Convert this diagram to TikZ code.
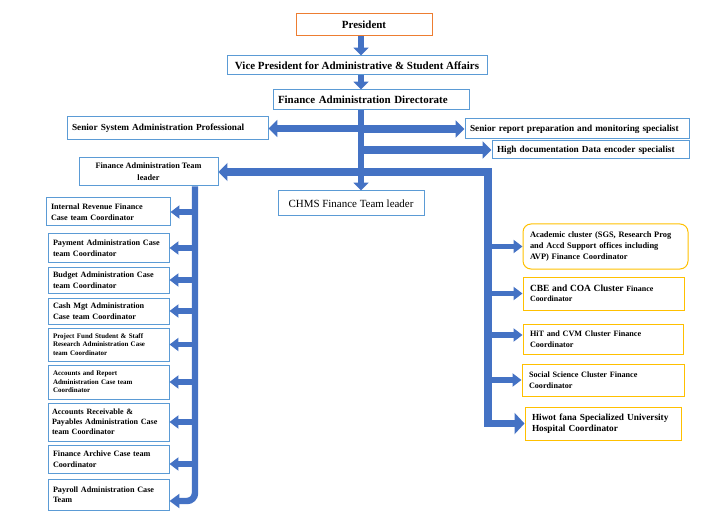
\documentclass[tikz,border=0pt]{standalone}
\usepackage{fontspec}
\setmainfont{Liberation Serif}
\usetikzlibrary{arrows.meta}
\definecolor{boxblue}{HTML}{5B9BD5}
\definecolor{presorange}{HTML}{ED7D31}
\definecolor{clgold}{HTML}{FFC000}
\definecolor{arrowblue}{HTML}{4472C4}
\newcommand{\fsz}[2]{\fontsize{#1}{#2}\selectfont}

\begin{document}
\begin{tikzpicture}[x=1bp, y=-1bp,
	box/.style = {draw=boxblue, line width=1bp, anchor=north west, inner xsep=5bp, inner ysep=1bp, align=left, font=\bfseries\fsz{11}{13}},
	lft/.style = {box, text width=111bp, font=\bfseries\fsz{8.2}{10.5}},
	rgt/.style = {box, draw=clgold, inner xsep=7bp, font=\bfseries\fsz{8.2}{10.5}},
	darrow/.style = {draw=arrowblue, line width=7pt, -{Triangle[width=15pt,length=8pt]}},
	harrow/.style = {draw=arrowblue, line width=7.5pt, -{Triangle[width=17pt,length=9pt]}},
	sarrow/.style = {draw=arrowblue, line width=6pt, -{Triangle[width=13pt,length=9pt]}}]
		\useasboundingbox (-0.5,-0.5) rectangle (716.5,514.5);
		\coordinate (ctr) at (360.5,0);
		\coordinate (ltr) at (194.5,0);
		\coordinate (rtr) at (487.5,0);

		\node (pres) at (295,13) [box, draw=presorange, align=center, minimum width=136bp, minimum height=22bp] {President};
		\node (vp) at (226,55) [box, align=center, minimum width=260bp, minimum height=19bp] {Vice President for Administrative \& Student Affairs};
		\node (fad) at (272,89) [box, text width=186bp, minimum height=20bp] {Finance Administration Directorate};
		\node (ssa) at (66,116) [box, text width=191bp, minimum height=23bp, font=\bfseries\fsz{9.3}{11}] {Senior System Administration Professional};
		\node (sr) at (464,118) [box, text width=214bp, minimum height=20bp, font=\bfseries\fsz{9.3}{11}] {Senior report preparation and monitoring specialist};
		\node (hd) at (491,140) [box, text width=187bp, minimum height=18bp, font=\bfseries\fsz{9.3}{11}] {High documentation Data encoder specialist};
		\node (fat) at (78,157) [box, align=center, minimum width=139bp, minimum height=28bp, font=\bfseries\fsz{8.3}{12}] {Finance Administration Team\\leader};
		\node (chms) at (277,190) [box, align=center, minimum width=146bp, minimum height=25bp, font=\fsz{11}{13}] {CHMS Finance Team leader};

		\node (irf) at (45,197) [lft, text width=114bp, minimum height=28bp] {Internal Revenue Finance\\Case team Coordinator};
		\node (pay) at (47,233) [lft, minimum height=28bp] {Payment Administration Case\\team Coordinator};
		\node (bud) at (47,266) [lft, minimum height=26bp] {Budget Administration Case\\team Coordinator};
		\node (cash) at (47,297) [lft, minimum height=26bp] {Cash Mgt Administration\\Case team Coordinator};
		\node (proj) at (47,327) [lft, minimum height=33bp, font=\bfseries\fsz{7}{8.6}] {Project Fund Student \& Staff\\Research Administration Case\\team Coordinator};
		\node (arep) at (47,364) [lft, minimum height=34bp, font=\bfseries\fsz{7}{8.6}] {Accounts and Report\\Administration Case team\\Coordinator};
		\node (arec) at (47,402) [lft, inner xsep=4bp, text width=113bp, minimum height=38bp, font=\bfseries\fsz{8.1}{9.8}] {Accounts Receivable \&\\Payables Administration Case\\team Coordinator};
		\node (farc) at (47,444) [lft, minimum height=28bp] {Finance Archive Case team\\Coordinator};
		\node (payr) at (47,478) [lft, minimum height=31bp] {Payroll Administration Case\\Team};

		\node (acad) at (522,223) [rgt, rounded corners=8bp, text width=151bp, minimum height=45bp, font=\bfseries\fsz{8.4}{11}] {Academic cluster (SGS, Research Prog\\and Accd Support offices including\\AVP) Finance Coordinator};
		\node (cbe) at (522,276) [rgt, text width=147bp, minimum height=33bp, font=\bfseries\fsz{8}{10.5}] {{\fsz{9.5}{10.5}CBE and COA Cluster} Finance\\Coordinator};
		\node (hit) at (522,323) [rgt, text width=146bp, minimum height=30bp] {HiT and CVM Cluster Finance\\Coordinator};
		\node (soc) at (521,363) [rgt, text width=148bp, minimum height=32bp] {Social Science Cluster Finance\\Coordinator};
		\node (hiw) at (524,406) [rgt, text width=142bp, minimum height=33bp, font=\bfseries\fsz{9.3}{11.3}] {Hiwot fana Specialized University\\Hospital Coordinator};

		\coordinate (hitin) at ([yshift=4bp]hit.west);
		\coordinate (farcin) at ([yshift=-5bp]farc.east);
		\coordinate (payrin) at ([yshift=-6.5bp]payr.east);

		\draw[darrow] (pres.south -| ctr) -- (vp.north -| ctr);
		\draw[darrow] (vp.south -| ctr) -- (fad.north -| ctr);
		\draw[darrow] (fad.south -| ctr) -- (chms.north -| ctr);
		\draw[harrow] (ssa.east -| ctr) -- (ssa.east);
		\draw[harrow] (sr.west -| ctr) -- (sr.west);
		\draw[harrow] (hd.west -| ctr) -- (hd.west);
		\draw[draw=arrowblue, line width=7.5pt, {Triangle[width=18pt,length=9pt]}-{Triangle[width=21pt,length=10pt]}] (fat.east) -- (fat.east -| rtr) |- (hiw.west);
		\draw[draw=arrowblue, line width=6.5pt, rounded corners=8pt, -{Triangle[width=14pt,length=10pt]}] (fat.south -| ltr) |- (payrin);

		\draw[sarrow] (irf.east -| ltr) -- (irf.east);
		\draw[sarrow] (pay.east -| ltr) -- (pay.east);
		\draw[sarrow] (bud.east -| ltr) -- (bud.east);
		\draw[sarrow] (cash.east -| ltr) -- (cash.east);
		\draw[sarrow] (proj.east -| ltr) -- (proj.east);
		\draw[sarrow] (arep.east -| ltr) -- (arep.east);
		\draw[sarrow] (arec.east -| ltr) -- (arec.east);
		\draw[sarrow] (farcin -| ltr) -- (farcin);

		\draw[sarrow] (acad.west -| rtr) -- (acad.west);
		\draw[sarrow] (cbe.west -| rtr) -- (cbe.west);
		\draw[sarrow] (hitin -| rtr) -- (hitin);
		\draw[sarrow] (soc.west -| rtr) -- (soc.west);
\end{tikzpicture}
\end{document}
